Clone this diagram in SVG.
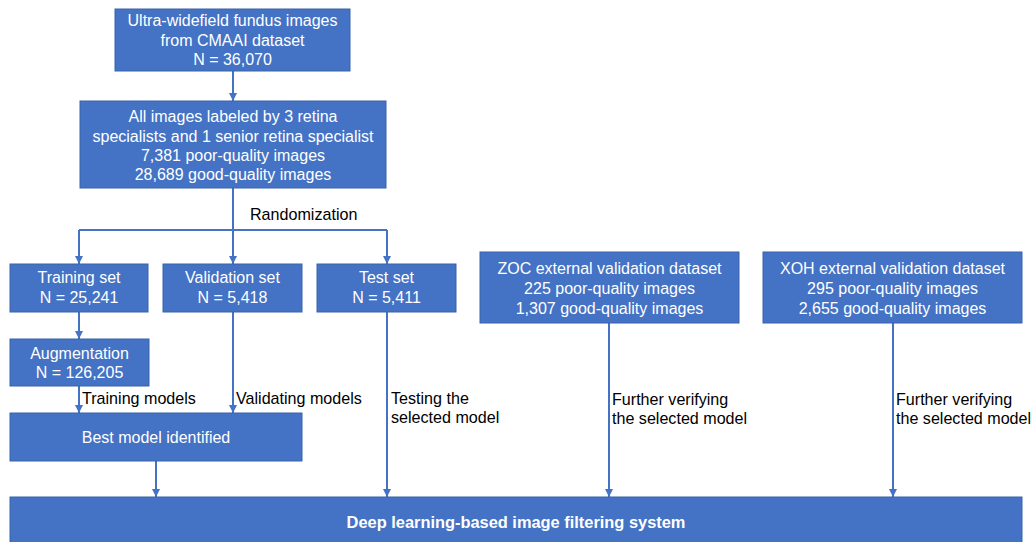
<svg xmlns="http://www.w3.org/2000/svg" width="1036" height="542" viewBox="0 0 1036 542">
  <style>
    .box { fill: #4472C4; stroke: #3A62A8; stroke-width: 1; }
    .bt { font-family: "Liberation Sans", Arial, sans-serif; font-size: 16px; fill: #FFFFFF; text-anchor: middle; }
    .bold { font-weight: bold; font-size: 16.4px; }
    .lbl { font-family: "Liberation Sans", Arial, sans-serif; font-size: 16.1px; fill: #000000; }
    .conn { fill: none; stroke: #4472C4; stroke-width: 2; }
  </style>
  <defs>
    <marker id="arrow" viewBox="0 0 10 10" refX="10" refY="5" markerWidth="4" markerHeight="4" orient="auto" markerUnits="strokeWidth">
      <path d="M0,0 L10,5 L0,10 z" fill="#4472C4"/>
    </marker>
  </defs>
  <rect width="1036" height="542" fill="#FFFFFF"/>

  <!-- connectors -->
  <g id="connectors">
    <path class="conn" d="M233,71 V101" marker-end="url(#arrow)"/>
    <path class="conn" d="M233,188 V230"/>
    <path class="conn" d="M79,230 H387"/>
    <path class="conn" d="M79,230 V264" marker-end="url(#arrow)"/>
    <path class="conn" d="M233,230 V264" marker-end="url(#arrow)"/>
    <path class="conn" d="M387,230 V264" marker-end="url(#arrow)"/>
    <path class="conn" d="M79,312 V339" marker-end="url(#arrow)"/>
    <path class="conn" d="M79,386 V413" marker-end="url(#arrow)"/>
    <path class="conn" d="M233,312 V413" marker-end="url(#arrow)"/>
    <path class="conn" d="M387,312 V497" marker-end="url(#arrow)"/>
    <path class="conn" d="M156,461 V497" marker-end="url(#arrow)"/>
    <path class="conn" d="M609,323 V497" marker-end="url(#arrow)"/>
    <path class="conn" d="M893,323 V497" marker-end="url(#arrow)"/>
    <text class="lbl" x="250" y="220">Randomization</text>
    <text class="lbl" x="82" y="404">Training models</text>
    <text class="lbl" x="236" y="404">Validating models</text>
    <text class="lbl" x="391" y="404">Testing the</text>
    <text class="lbl" x="391" y="423">selected model</text>
    <text class="lbl" x="612" y="405">Further verifying</text>
    <text class="lbl" x="612" y="424">the selected model</text>
    <text class="lbl" x="896" y="405">Further verifying</text>
    <text class="lbl" x="896" y="424">the selected model</text>
  </g>

  <g id="source">
    <rect class="box" x="115" y="9" width="235" height="62"/>
    <text class="bt" x="232.5" y="26">Ultra-widefield fundus images</text>
    <text class="bt" x="232.5" y="46">from CMAAI dataset</text>
    <text class="bt" x="232.5" y="65">N = 36,070</text>
  </g>

  <g id="labeling">
    <rect class="box" x="80" y="101" width="306" height="87"/>
    <text class="bt" x="233" y="122">All images labeled by 3 retina</text>
    <text class="bt" x="233" y="142">specialists and 1 senior retina specialist</text>
    <text class="bt" x="233" y="161">7,381 poor-quality images</text>
    <text class="bt" x="233" y="180">28,689 good-quality images</text>
  </g>

  <g id="training-set">
    <rect class="box" x="10" y="264" width="138" height="48"/>
    <text class="bt" x="79" y="283">Training set</text>
    <text class="bt" x="79" y="303">N = 25,241</text>
  </g>

  <g id="validation-set">
    <rect class="box" x="163" y="264" width="139" height="48"/>
    <text class="bt" x="232.5" y="283">Validation set</text>
    <text class="bt" x="232.5" y="303">N = 5,418</text>
  </g>

  <g id="test-set">
    <rect class="box" x="317" y="264" width="139" height="48"/>
    <text class="bt" x="386.5" y="283">Test set</text>
    <text class="bt" x="386.5" y="303">N = 5,411</text>
  </g>

  <g id="augmentation">
    <rect class="box" x="10" y="339" width="139" height="47"/>
    <text class="bt" x="79.5" y="359">Augmentation</text>
    <text class="bt" x="79.5" y="378">N = 126,205</text>
  </g>

  <g id="best-model">
    <rect class="box" x="10" y="413" width="292" height="48"/>
    <text class="bt" x="156" y="443">Best model identified</text>
  </g>

  <g id="zoc-dataset">
    <rect class="box" x="480" y="252" width="259" height="71"/>
    <text class="bt" x="609.5" y="274">ZOC external validation dataset</text>
    <text class="bt" x="609.5" y="294">225 poor-quality images</text>
    <text class="bt" x="609.5" y="314">1,307 good-quality images</text>
  </g>

  <g id="xoh-dataset">
    <rect class="box" x="763" y="252" width="259" height="71"/>
    <text class="bt" x="892.5" y="274">XOH external validation dataset</text>
    <text class="bt" x="892.5" y="294">295 poor-quality images</text>
    <text class="bt" x="892.5" y="314">2,655 good-quality images</text>
  </g>

  <g id="filtering-system">
    <rect class="box" x="10" y="497" width="1012" height="60"/>
    <text class="bt bold" x="516" y="528">Deep learning-based image filtering system</text>
  </g>
</svg>
